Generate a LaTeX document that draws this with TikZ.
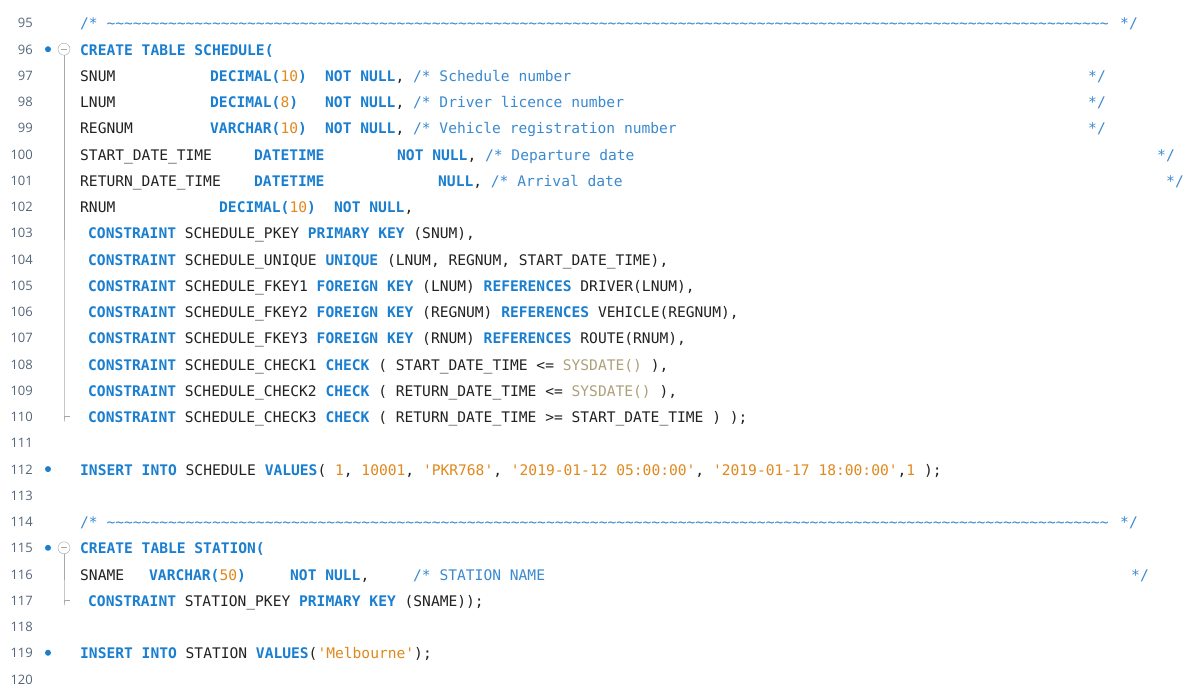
\documentclass[tikz,border=0pt]{standalone}
\usepackage{fontspec}
\setmonofont{DejaVu Sans Mono}
\newfontfamily\numfont{Open Sans}
\definecolor{kw}{HTML}{1A7FD0}
\definecolor{cm}{HTML}{3A8AD0}
\definecolor{nm}{HTML}{E0891E}
\definecolor{sd}{HTML}{ADA07A}
\definecolor{tx}{HTML}{222222}
\definecolor{ln}{HTML}{55667A}
\definecolor{fold}{HTML}{A8A8A8}
\newcommand\K[1]{\textcolor{kw}{\bfseries #1}}
\newcommand\N[1]{\textcolor{nm}{#1}}
\newcommand\Cm[1]{\textcolor{cm}{#1}}
\newcommand\Sd[1]{\textcolor{sd}{#1}}
\newcommand\tld[1]{\foreach\i in {1,...,#1}{\char126}}
\newcounter{seg}
\newcommand\cd[3]{\stepcounter{seg}\node[code] (s\theseg) at (#1,{29+(#2-95)*26.24}) {#3};}
\tikzset{code/.style={anchor=base west,inner sep=0pt,font=\ttfamily\fontsize{14.6}{16}\selectfont,text=tx},
 lnum/.style={anchor=base east,inner sep=0pt,font=\numfont\fontsize{13}{15}\selectfont,text=ln},
 bp/.style={circle,fill=kw,inner sep=0pt,minimum size=6pt},
 fb/.style={circle,draw=fold,fill=white,inner sep=0pt,minimum size=12pt}}
\begin{document}
\begin{tikzpicture}[x=1pt,y=-1pt]
\useasboundingbox[fill=white] (0,0) rectangle (1186,684);
\foreach \n in {95,...,120}{\node[lnum] (l\n) at (33,{28+(\n-95)*26.24}) {\n};}
\foreach \n in {96,112,115,119}{\node[bp] (b\n) at (48,{23+(\n-95)*26.24}) {};}
% fold markers
\node[fb] (f96) at (64,{23+1*26.24}) {};
\draw[fold,line width=0.9pt] ([xshift=-3pt]f96.center) -- ([xshift=3pt]f96.center);
\coordinate (e96) at (64,{23+15*26.24});
\draw[fold,line width=0.7pt] (f96.south) -- ([yshift=-5pt]e96) -- (e96) -- ++(6,0);
\node[fb] (f115) at (64,{23+20*26.24}) {};
\draw[fold,line width=0.9pt] ([xshift=-3pt]f115.center) -- ([xshift=3pt]f115.center);
\coordinate (e115) at (64,{23+22*26.24});
\draw[fold,line width=0.7pt] (f115.south) -- ([yshift=-5pt]e115) -- (e115) -- ++(6,0);
% 95
\cd{80}{95}{\Cm{/* \tld{114}}}
\cd{1120}{95}{\Cm{*/}}
\cd{80}{96}{\K{CREATE TABLE SCHEDULE(}}
\cd{80}{97}{SNUM}\cd{210}{97}{\K{DECIMAL(}\N{10}\K{)}}\cd{325}{97}{\K{NOT NULL}, \Cm{/* Schedule number}}\cd{1088}{97}{\Cm{*/}}
\cd{80}{98}{LNUM}\cd{210}{98}{\K{DECIMAL(}\N{8}\K{)}}\cd{325}{98}{\K{NOT NULL}, \Cm{/* Driver licence number}}\cd{1088}{98}{\Cm{*/}}
\cd{80}{99}{REGNUM}\cd{210}{99}{\K{VARCHAR(}\N{10}\K{)}}\cd{325}{99}{\K{NOT NULL}, \Cm{/* Vehicle registration number}}\cd{1088}{99}{\Cm{*/}}
\cd{80}{100}{START\_DATE\_TIME}\cd{254}{100}{\K{DATETIME}}\cd{397}{100}{\K{NOT NULL}, \Cm{/* Departure date}}\cd{1157}{100}{\Cm{*/}}
\cd{80}{101}{RETURN\_DATE\_TIME}\cd{254}{101}{\K{DATETIME}}\cd{438}{101}{\K{NULL}, \Cm{/* Arrival date}}\cd{1166}{101}{\Cm{*/}}
\cd{80}{102}{RNUM}\cd{219}{102}{\K{DECIMAL(}\N{10}\K{)}}\cd{334}{102}{\K{NOT NULL},}
\cd{88}{103}{\K{CONSTRAINT} SCHEDULE\_PKEY \K{PRIMARY KEY} (SNUM),}
\cd{88}{104}{\K{CONSTRAINT} SCHEDULE\_UNIQUE \K{UNIQUE} (LNUM, REGNUM, START\_DATE\_TIME),}
\cd{88}{105}{\K{CONSTRAINT} SCHEDULE\_FKEY1 \K{FOREIGN KEY} (LNUM) \K{REFERENCES} DRIVER(LNUM),}
\cd{88}{106}{\K{CONSTRAINT} SCHEDULE\_FKEY2 \K{FOREIGN KEY} (REGNUM) \K{REFERENCES} VEHICLE(REGNUM),}
\cd{88}{107}{\K{CONSTRAINT} SCHEDULE\_FKEY3 \K{FOREIGN KEY} (RNUM) \K{REFERENCES} ROUTE(RNUM),}
\cd{88}{108}{\K{CONSTRAINT} SCHEDULE\_CHECK1 \K{CHECK} ( START\_DATE\_TIME <= \Sd{SYSDATE()} ),}
\cd{88}{109}{\K{CONSTRAINT} SCHEDULE\_CHECK2 \K{CHECK} ( RETURN\_DATE\_TIME <= \Sd{SYSDATE()} ),}
\cd{88}{110}{\K{CONSTRAINT} SCHEDULE\_CHECK3 \K{CHECK} ( RETURN\_DATE\_TIME >= START\_DATE\_TIME ) );}
\cd{80}{112}{\K{INSERT INTO} SCHEDULE \K{VALUES}( \N{1}, \N{10001}, \N{'PKR768'}, \N{'2019-01-12 05:00:00'}, \N{'2019-01-17 18:00:00'},\N{1} );}
\cd{80}{114}{\Cm{/* \tld{114}}}
\cd{1120}{114}{\Cm{*/}}
\cd{80}{115}{\K{CREATE TABLE STATION(}}
\cd{80}{116}{SNAME}\cd{149}{116}{\K{VARCHAR(}\N{50}\K{)}}\cd{290}{116}{\K{NOT NULL},}\cd{413}{116}{\Cm{/* STATION NAME}}\cd{1131}{116}{\Cm{*/}}
\cd{88}{117}{\K{CONSTRAINT} STATION\_PKEY \K{PRIMARY KEY} (SNAME));}
\cd{80}{119}{\K{INSERT INTO} STATION \K{VALUES}(\N{'Melbourne'});}
\end{tikzpicture}
\end{document}
